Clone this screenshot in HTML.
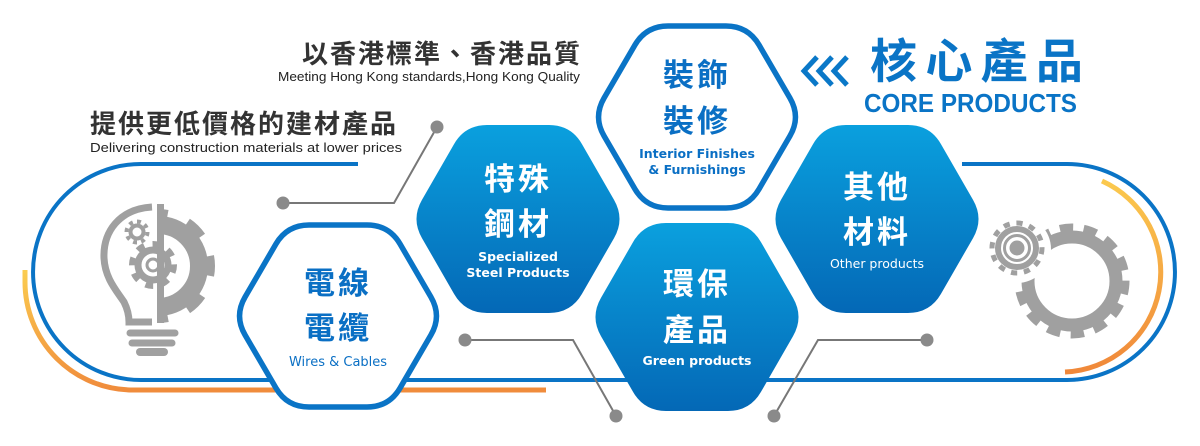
<!DOCTYPE html>
<html><head><meta charset="utf-8"><style>
html,body{margin:0;padding:0;background:#fff;}
svg{display:block;}
.cjk{font-family:"Liberation Sans","Noto Sans CJK TC",sans-serif;}
</style></head><body>
<svg id="s" width="1200" height="446" viewBox="0 0 1200 446" xmlns="http://www.w3.org/2000/svg" class="cjk">
<defs>
<linearGradient id="g" x1="0" y1="0" x2="0" y2="1">
<stop offset="0" stop-color="#0aa0de"/><stop offset="1" stop-color="#0468b6"/></linearGradient>
<linearGradient id="og" x1="0" y1="0" x2="0" y2="1">
<stop offset="0" stop-color="#fbcd50"/><stop offset="1" stop-color="#f08c3c"/></linearGradient>
<linearGradient id="og2" x1="0" y1="0" x2="0" y2="1">
<stop offset="0" stop-color="#fbc94e"/><stop offset="1" stop-color="#f0883a"/></linearGradient>
<clipPath id="rh"><rect x="158" y="190" width="80" height="160"/></clipPath>
</defs>

<path d="M358 164 L141 164 A108 108 0 0 0 141 380 L1067 380 A108 108 0 0 0 1067 164 L962 164" fill="none" stroke="#0a74c6" stroke-width="4"/>
<path d="M25 270 L25 282 A108 108 0 0 0 133 390 L546 390" fill="none" stroke="url(#og)" stroke-width="5"/>
<path d="M1102 181 A100 100 0 0 1 1065 372" fill="none" stroke="url(#og2)" stroke-width="5"/>

<g stroke="#777" stroke-width="2" fill="none">
<path d="M283 203 L394 203 L437 127"/>
<path d="M465 340 L573 340 L616 416"/>
<path d="M927 340 L818 340 L774 416"/>
</g>
<g fill="#8a8a8a">
<circle cx="283" cy="203" r="6.5"/><circle cx="437" cy="127" r="6.5"/>
<circle cx="465" cy="340" r="6.5"/><circle cx="616" cy="416" r="6.5"/>
<circle cx="927" cy="340" r="6.5"/><circle cx="774" cy="416" r="6.5"/>
</g>

<g id="hexes"></g>

<g font-weight="bold" text-anchor="middle">
<g fill="#0a6fc4">
<text x="338" y="294" font-size="31" letter-spacing="3">電線</text>
<text x="338" y="339" font-size="31" letter-spacing="3">電纜</text>
<text x="338" y="366" font-size="13" font-weight="normal" font-family="DejaVu Sans,sans-serif">Wires &amp; Cables</text>
<text x="697" y="86" font-size="31" letter-spacing="3">裝飾</text>
<text x="697" y="132" font-size="31" letter-spacing="3">裝修</text>
<text x="697" y="158" font-size="12.5" font-family="DejaVu Sans,sans-serif">Interior Finishes</text>
<text x="697" y="174" font-size="12.5" font-family="DejaVu Sans,sans-serif">&amp; Furnishings</text>
</g>
<g fill="#fff">
<text x="518" y="190" font-size="31" letter-spacing="3">特殊</text>
<text x="518" y="235" font-size="31" letter-spacing="3">鋼材</text>
<text x="518" y="261" font-size="12.5" font-family="DejaVu Sans,sans-serif">Specialized</text>
<text x="518" y="277" font-size="12.5" font-family="DejaVu Sans,sans-serif">Steel Products</text>
<text x="697" y="295" font-size="31" letter-spacing="3">環保</text>
<text x="697" y="341" font-size="31" letter-spacing="3">產品</text>
<text x="697" y="365" font-size="12.5" font-family="DejaVu Sans,sans-serif">Green products</text>
<text x="877" y="198" font-size="31" letter-spacing="3">其他</text>
<text x="877" y="243" font-size="31" letter-spacing="3">材料</text>
<text x="877" y="268" font-size="12.5" font-weight="normal" font-family="DejaVu Sans,sans-serif">Other products</text>
</g>
</g>

<text x="302" y="63" font-size="26" fill="#333" font-weight="bold" textLength="278" lengthAdjust="spacing">以香港標準、香港品質</text>
<text x="278" y="81" font-size="13" fill="#222" textLength="302" lengthAdjust="spacingAndGlyphs">Meeting Hong Kong standards,Hong Kong Quality</text>
<text x="90" y="133" font-size="26" fill="#333" font-weight="bold" textLength="306" lengthAdjust="spacing">提供更低價格的建材產品</text>
<text x="90" y="152" font-size="13" fill="#222" textLength="312" lengthAdjust="spacingAndGlyphs">Delivering construction materials at lower prices</text>

<g fill="none" stroke="#0a78c8" stroke-width="5" stroke-linejoin="miter">
<path d="M817 57 L804 71 L817 85"/><path d="M832 57 L819 71 L832 85"/><path d="M847 57 L834 71 L847 85"/>
</g>
<text x="870" y="78" font-size="47" fill="#0a74c6" font-weight="bold" textLength="213" lengthAdjust="spacing">核心產品</text>
<text x="864" y="112" font-size="26" fill="#0a74c6" font-weight="bold" textLength="213" lengthAdjust="spacingAndGlyphs">CORE PRODUCTS</text>

<!-- bulb icon -->
<path d="M152 207 C119 209 103 232 104 258 C105 278 116 290 124 302 C128 310 129 318 129 322 L152 322" fill="none" stroke="#a0a0a0" stroke-width="7"/>
<rect x="157" y="204" width="7" height="119" fill="#a0a0a0"/>
<g clip-path="url(#rh)">
<circle cx="158" cy="266" r="41" fill="none" stroke="#a0a0a0" stroke-width="18"/>
<circle cx="158" cy="266" r="52" fill="none" stroke="#a0a0a0" stroke-width="10" pathLength="100" stroke-dasharray="6 6.5" stroke-dashoffset="3"/>
</g>
<circle cx="153" cy="265" r="21" fill="none" stroke="#a0a0a0" stroke-width="6" pathLength="100" stroke-dasharray="6 6.5"/>
<circle cx="153" cy="265" r="15" fill="none" stroke="#a0a0a0" stroke-width="7"/>
<circle cx="153" cy="265" r="6" fill="none" stroke="#a0a0a0" stroke-width="3"/>
<circle cx="137" cy="232" r="10.5" fill="none" stroke="#a0a0a0" stroke-width="4" pathLength="100" stroke-dasharray="6 6.5"/>
<circle cx="137" cy="232" r="6.5" fill="none" stroke="#a0a0a0" stroke-width="4"/>
<g stroke="#a0a0a0" stroke-linecap="round" fill="none">
<line x1="130" y1="333" x2="175" y2="333" stroke-width="7"/>
<line x1="132" y1="343" x2="172" y2="343" stroke-width="7"/>
<path d="M140 352 L164 352" stroke-width="8"/>
</g>

<!-- right gears -->
<circle cx="1072" cy="281" r="44" fill="none" stroke="#a0a0a0" stroke-width="13"/>
<circle cx="1072" cy="281" r="53" fill="none" stroke="#a0a0a0" stroke-width="9" pathLength="100" stroke-dasharray="4 3.14"/>
<circle cx="1017" cy="249" r="34" fill="#fff"/>
<circle cx="1017" cy="248" r="25" fill="none" stroke="#a0a0a0" stroke-width="5" pathLength="100" stroke-dasharray="4 4.33"/>
<circle cx="1017" cy="248" r="19" fill="none" stroke="#a0a0a0" stroke-width="6"/>
<circle cx="1017" cy="248" r="12.5" fill="none" stroke="#a0a0a0" stroke-width="3"/>
<circle cx="1017" cy="248" r="7.5" fill="#a0a0a0"/>
</svg>
<script>
(function(){
var NS="http://www.w3.org/2000/svg",g=document.getElementById("hexes");
function hex(cx,cy,hw,tw,hh,r){
 var p=[[cx-hw,cy],[cx-tw,cy-hh],[cx+tw,cy-hh],[cx+hw,cy],[cx+tw,cy+hh],[cx-tw,cy+hh]],d="";
 for(var i=0;i<6;i++){
  var a=p[(i+5)%6],b=p[i],c=p[(i+1)%6];
  var l1=Math.hypot(a[0]-b[0],a[1]-b[1]),l2=Math.hypot(c[0]-b[0],c[1]-b[1]);
  var s=[b[0]+(a[0]-b[0])*r/l1,b[1]+(a[1]-b[1])*r/l1],e=[b[0]+(c[0]-b[0])*r/l2,b[1]+(c[1]-b[1])*r/l2];
  d+=(i?"L":"M")+s[0]+" "+s[1]+"Q"+b[0]+" "+b[1]+" "+e[0]+" "+e[1];
 }
 return d+"Z";
}
function add(cx,cy,filled){
 var e=document.createElementNS(NS,"path");
 if(filled){e.setAttribute("d",hex(cx,cy,107,53,94,22));e.setAttribute("fill","url(#g)");}
 else{e.setAttribute("d",hex(cx,cy,104,51,91,22));e.setAttribute("fill","#fff");e.setAttribute("stroke","#0a74c6");e.setAttribute("stroke-width","5.5");}
 g.appendChild(e);
}
add(338,316,false);add(518,219,true);add(697,117,false);add(697,317,true);add(877,219,true);
})();
</script>
</body></html>
